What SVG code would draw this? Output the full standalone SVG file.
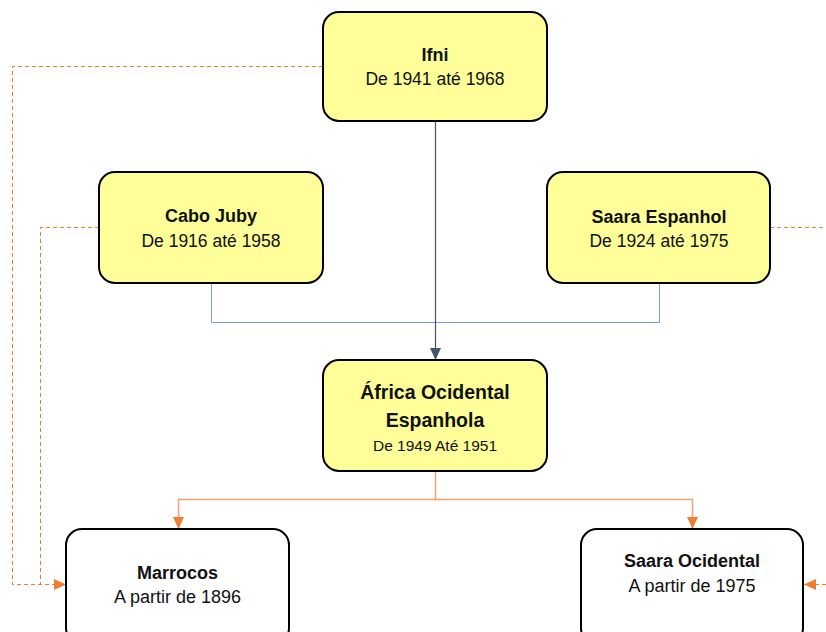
<svg xmlns="http://www.w3.org/2000/svg" width="826" height="632" viewBox="0 0 826 632">
<defs>
<style>
.box{stroke:#000;stroke-width:2}
.y{fill:#FFFF99}
.w{fill:#FFFFFF}
text{font-family:"Liberation Sans",Arial,sans-serif;text-anchor:middle;fill:#111}
.t{font-weight:bold;font-size:18px}
.s{font-size:17.5px}
.dash{fill:none;stroke:#ED7D31;stroke-width:1;stroke-dasharray:4 3}
.blue{fill:none;stroke:#7F9DD4;stroke-width:1}
.org{fill:none;stroke:#F4A070;stroke-width:1.5}
</style>
<marker id="ao" markerWidth="12" markerHeight="11" refX="12" refY="5.5" orient="auto" markerUnits="userSpaceOnUse">
<path d="M0,0 L12,5.5 L0,11 Z" fill="#ED7D31"/>
</marker>
<marker id="ab" markerWidth="12" markerHeight="11" refX="12" refY="5.5" orient="auto" markerUnits="userSpaceOnUse">
<path d="M0,0 L12,5.5 L0,11 Z" fill="#44546A"/>
</marker>
</defs>
<rect width="826" height="632" fill="#fff"/>
<g id="connectors">
<path class="dash" d="M323,66.5 H12.5 V584.5 H66" marker-end="url(#ao)"/>
<path class="dash" d="M99,227.5 H40.5 V584.5"/>
<path class="dash" d="M770,227.5 H826"/>
<path class="dash" d="M826,584.5 H804" marker-end="url(#ao)"/>
<path class="blue" d="M211.5,283 V322.5 H659.5 V283"/>
<path d="M435.5,121 V360" fill="none" stroke="#44546A" stroke-width="1.2" marker-end="url(#ab)"/>
<path class="org" d="M435.5,471 V499.5 H178.5 V529" marker-end="url(#ao)"/>
<path class="org" d="M435.5,499.5 H692.5 V529" marker-end="url(#ao)"/>
</g>
<g id="ifni">
<rect class="box y" x="323" y="12" width="224" height="109" rx="16"/>
<text class="t" x="435" y="61">Ifni</text>
<text class="s" x="435" y="85">De 1941 até 1968</text>
</g>
<g id="cabo-juby">
<rect class="box y" x="99" y="172" width="224" height="111" rx="16"/>
<text class="t" x="211" y="222">Cabo Juby</text>
<text class="s" x="211" y="247">De 1916 até 1958</text>
</g>
<g id="saara-espanhol">
<rect class="box y" x="547" y="172" width="223" height="111" rx="16"/>
<text class="t" x="659" y="223">Saara Espanhol</text>
<text class="s" x="659" y="247">De 1924 até 1975</text>
</g>
<g id="africa-ocidental">
<rect class="box y" x="323" y="360" width="224" height="111" rx="16"/>
<text class="t" x="435" y="399" style="font-size:19.5px">África Ocidental</text>
<text class="t" x="435" y="427" style="font-size:19.5px">Espanhola</text>
<text class="s" x="435" y="451" style="font-size:15.5px">De 1949 Até 1951</text>
</g>
<g id="marrocos">
<rect class="box w" x="66" y="529" width="223" height="115" rx="16"/>
<text class="t" x="177.5" y="579">Marrocos</text>
<text class="s" x="177.5" y="603" style="font-size:18px">A partir de 1896</text>
</g>
<g id="saara-ocidental">
<rect class="box w" x="581" y="529" width="222" height="115" rx="16"/>
<text class="t" x="692" y="567">Saara Ocidental</text>
<text class="s" x="692" y="592" style="font-size:18px">A partir de 1975</text>
</g>
</svg>
